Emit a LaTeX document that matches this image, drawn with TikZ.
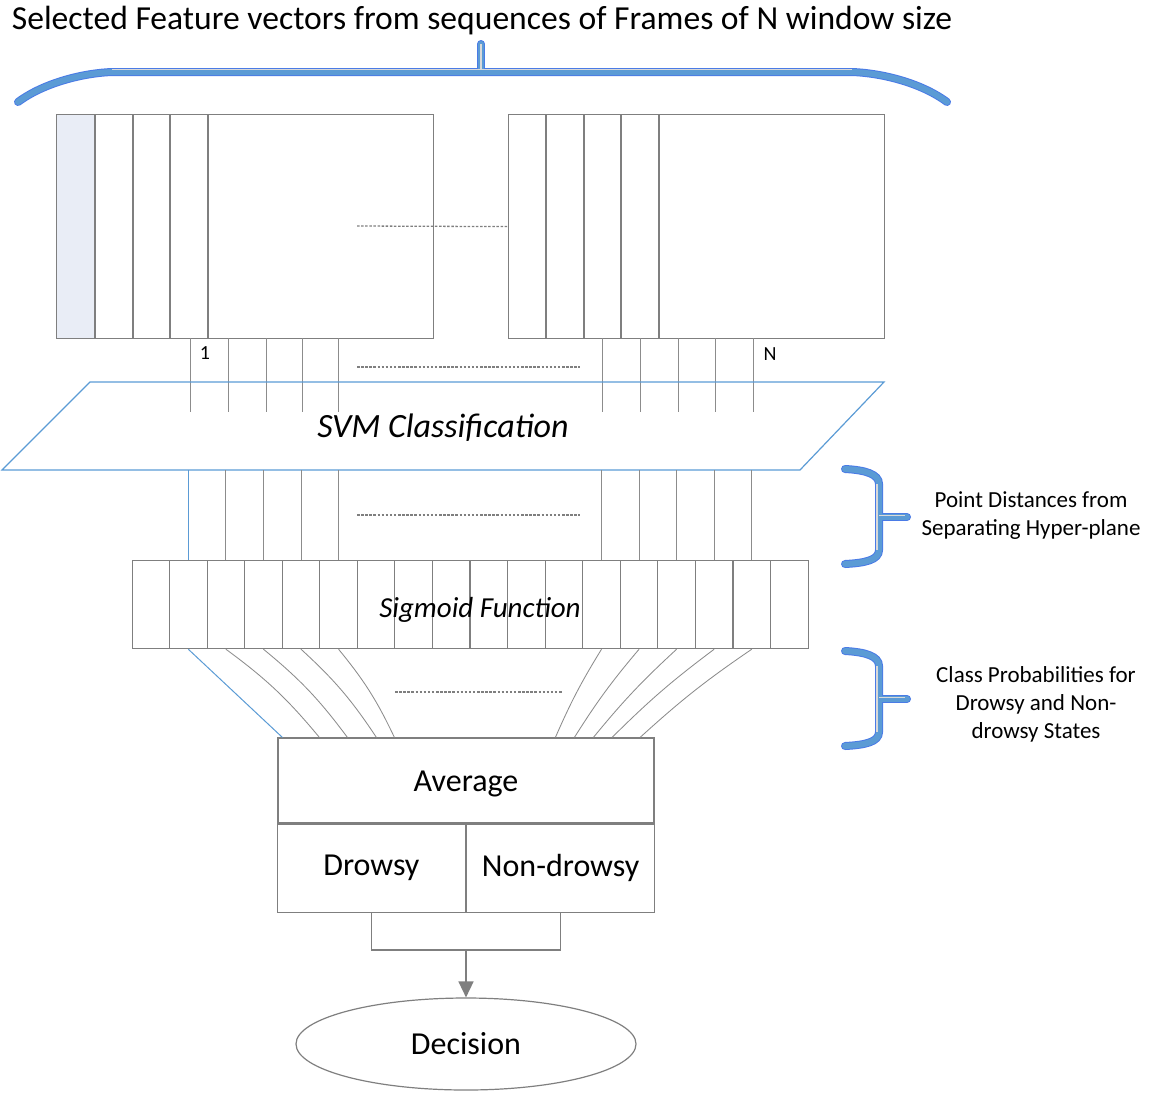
\documentclass[tikz,border=0pt]{standalone}
\usepackage{fontspec}
\setmainfont{Carlito}
\usetikzlibrary{arrows.meta,calc,shapes.geometric}
\definecolor{dgray}{HTML}{7F7F7F}
\definecolor{dblue}{HTML}{5B9BD5}
\definecolor{dedge}{HTML}{4A7BE6}
\definecolor{dfill}{HTML}{E9EDF6}
\tikzset{
  dframe/.style={draw=dgray,line width=1.2pt,inner sep=0pt},
  dcell/.style={draw=dgray,line width=1.1pt},
  dwire/.style={draw=dgray!90,line width=0.85pt},
  dwireB/.style={draw=dblue,line width=1pt},
  ddots/.style={draw=dgray,line width=1.3pt,dash pattern=on 2.5pt off 1.6pt},
  dbrO/.style={draw=dedge,line width=8pt,line cap=round},
  dbrI/.style={draw=dblue,line width=6pt,line cap=round},
  dbrH/.style={draw=gray!30,line width=1.2pt},
  dlink/.style={draw=dgray,line width=1.6pt},
  dbig/.style={font=\fontsize{32}{38}\selectfont},
  dtitle/.style={font=\fontsize{33.6}{40}\selectfont},
  dside/.style={font=\fontsize{23}{28}\selectfont,align=center},
  dnum/.style={font=\fontsize{20}{24}\selectfont},
}
\begin{document}
\begin{tikzpicture}[x=1pt,y=-1pt]
\useasboundingbox (0,0) rectangle (1155,1092);
% ---- title and the brace over both windows
\node[dtitle] (title) at (482,21) {Selected Feature vectors from sequences of Frames of N window size};
\foreach \S in {dbrO,dbrI}{
  \draw[\S] (18,102) .. controls (45,82) and (85,73) .. (112,72) -- (852,72) .. controls (880,73) and (920,82) .. (947,102);
  \draw[\S] (481,72) -- (481,44);}
\draw[dbrH] (112,69.5) -- (852,69.5);
\draw[dbrH] (481,70) -- (481,44);
% ---- the two frame windows
\fill[dfill] (56,114) rectangle (95,338);
\node[dframe,minimum width=377pt,minimum height=224pt,anchor=north west] (winA) at (56,114) {};
\node[dframe,minimum width=376pt,minimum height=224pt,anchor=north west] (winB) at (508,114) {};
\foreach \X in {95,133,170,208} \draw[dcell] (\X,114) -- (\X,338);
\foreach \X in {546,584,621,659} \draw[dcell] (\X,114) -- (\X,338);
\coordinate (gapA) at (357,226);
\draw[ddots] (gapA) -- (winB.west);
% ---- feature wires into the classifier
\foreach \X in {190.5,228,266,302,338,602,640,678,715,753}
  \draw[dwire] (\X,338) -- (\X,412);
\node[dnum] (first) at (205,353) {1};
\node[dnum] (last) at (770,354) {N};
\draw[ddots] (357,367) -- (580,367);
% ---- SVM plane
\coordinate (svmTL) at (90,382);
\coordinate (svmTR) at (884,382);
\coordinate (svmBR) at (800,470);
\coordinate (svmBL) at (2,470);
\draw[dblue,line width=1.2pt] (svmTL) -- (svmTR) -- (svmBR) -- (svmBL) -- cycle;
\node[font=\fontsize{34}{40}\selectfont\itshape] (svm) at (443,428) {SVM Classification};
% ---- sigmoid row, 18 cells
\node[dframe,minimum width=676pt,minimum height=88pt,anchor=north west] (sig) at (132,560) {};
\foreach \i in {1,...,17} \draw[dcell] ($(sig.north west)+(\i*37.56,0)$) -- ++(0,88);
\node[font=\fontsize{29}{34}\selectfont\itshape] (sigtxt) at (480,610) {Sigmoid Function};
% distances: plane -> sigmoid cells
\draw[dwireB] (188.3,470) -- ($(sig.north west)+(56.3,0)$);
\foreach \i in {2,3,4,5,12,13,14,15,16}
  \draw[dwire] ($(sig.north west)+(\i*37.56+18.8,-90)$) -- ++(0,90);
\draw[ddots] (357,515) -- (580,515);
% ---- average box, two classes, decision
\node[dframe,minimum width=376pt,minimum height=85pt] (avg) at (466,780.5) {};
\node[dbig] (avgtxt) at (466,784) {Average};
\node[dframe,dbig,minimum width=188pt,minimum height=88pt,anchor=north east] (drw) at (avg.south) {Drowsy};
\node[dframe,dbig,minimum width=188pt,minimum height=88pt,anchor=north west] (ndr) at (avg.south) {Non-drowsy};
\node[dframe,dbig,ellipse,minimum width=340pt,minimum height=92pt] (dec) at (466,1044) {Decision};
% probabilities: sigmoid cells -> average
\draw[dwireB] ($(sig.south west)+(56.3,0)$) -- ($(avg.north west)+(5,0)$);
\foreach \i/\E in {2/42,3/70,4/99,5/117}
  \draw[dwire] ($(sig.south west)+(\i*37.56-18.8+37.56,0)$) to[bend left=7] ($(avg.north west)+(\E,0)$);
\foreach \i/\E in {12/278,13/297,14/316,15/334.7,16/362.7}
  \draw[dwire] ($(sig.south west)+(\i*37.56+18.8,0)$) to[bend right=4] ($(avg.north west)+(\E,0)$);
\draw[ddots] (395,692) -- (562,692);
\draw[dlink] (drw.south) -- ++(0,37) coordinate (join) -| (ndr.south);
\draw[dlink,-{Triangle[length=16pt,width=15pt]}] (join -| avg.south) -- (dec.north);
% ---- side braces and their notes
\foreach \Y in {517,699}{
  \foreach \S in {dbrO,dbrI}{
    \draw[\S] (845,\Y-48) .. controls (865,\Y-47) and (879,\Y-43) .. (879,\Y-33) -- (879,\Y+33) .. controls (879,\Y+43) and (865,\Y+46) .. (845,\Y+47);
    \draw[\S] (879,\Y) -- (907,\Y);}
  \draw[dbrH] (877,\Y-33) -- (877,\Y+33);
  \draw[dbrH] (879,\Y-1.5) -- (905,\Y-1.5);}
\node[dside] (distnote) at (1031,516) {Point Distances from\\Separating Hyper-plane};
\node[dside] (probnote) at (1036,704) {Class Probabilities for\\Drowsy and Non-\\drowsy States};
\end{tikzpicture}
\end{document}
